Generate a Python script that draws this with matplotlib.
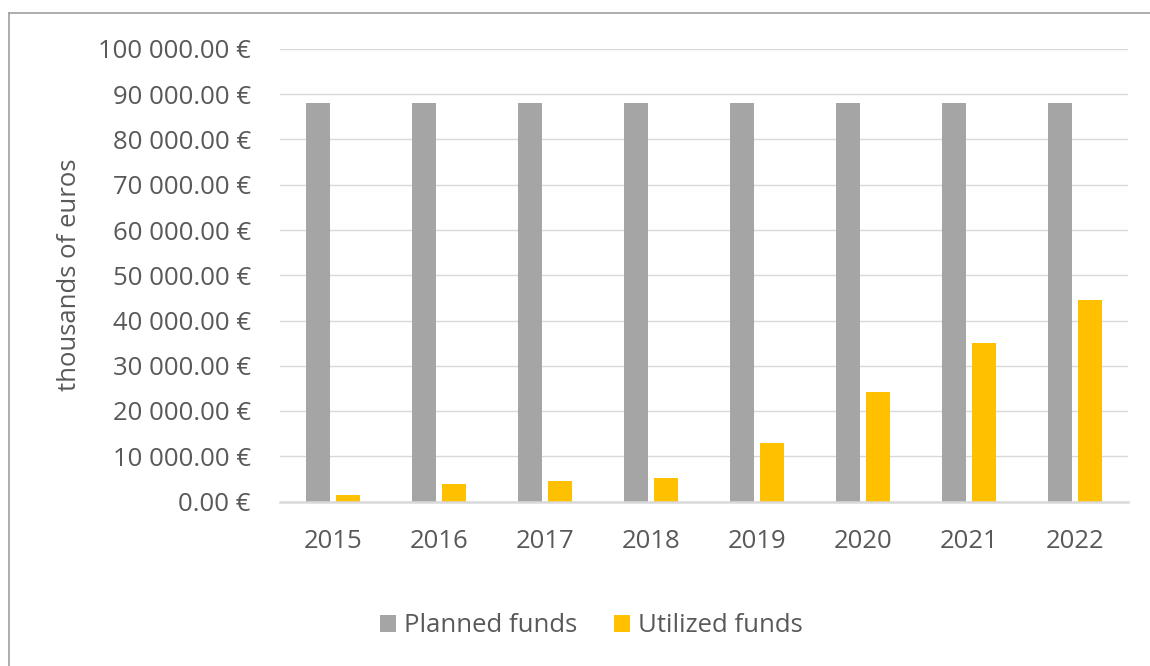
import matplotlib
matplotlib.use("Agg")
import matplotlib.pyplot as plt
from matplotlib.patches import Patch
from matplotlib.lines import Line2D
import numpy as np

years = ["2015", "2016", "2017", "2018", "2019", "2020", "2021", "2022"]
planned = [88000, 88000, 88000, 88000, 88000, 88000, 88000, 88000]
utilized = [1400, 3900, 4500, 5200, 12900, 24300, 35100, 44500]
yticks = [0, 10000, 20000, 30000, 40000, 50000, 60000, 70000, 80000, 90000, 100000]

plt.rcParams['font.family'] = ['Open Sans', 'DejaVu Sans']
TXT = '#595959'
FS = 18.5

fig = plt.figure(figsize=(11.5, 6.66), dpi=100)
ax = fig.add_axes([280/1150, 1-501.5/666, (1128-280)/1150, (501.5-49)/666])

x = np.arange(len(years))
w = 0.225
off = 0.145
ax.bar(x - off, planned, width=w, color='#A5A5A5', zorder=3)
ax.bar(x + off, utilized, width=w, color='#FFC000', zorder=3)

ax.set_xlim(-0.5, len(years) - 0.5)
ax.set_ylim(0, 100000)
ax.set_yticks(yticks)
ax.set_yticklabels([f"{v:,.2f} €".replace(",", " ") for v in yticks])
ax.set_xticks(x)
ax.set_xticklabels(years)

ax.grid(axis='y', color='#d9d9d9', linewidth=1.0, zorder=0)
for s in ['top', 'right', 'left']:
    ax.spines[s].set_visible(False)
ax.spines['bottom'].set_color('#d9d9d9')
ax.spines['bottom'].set_linewidth(1.8)
ax.spines['bottom'].set_zorder(4)

ax.tick_params(axis='y', length=0, pad=21, labelsize=FS, labelcolor=TXT)
ax.tick_params(axis='x', length=0, pad=20, labelsize=FS, labelcolor=TXT)

fig.text(70/1150, 1-275/666, "thousands of euros", rotation=90, ha='center', va='center',
         fontsize=FS, color=TXT)

handles = [Patch(facecolor='#A5A5A5', edgecolor='none', label='Planned funds'),
           Patch(facecolor='#FFC000', edgecolor='none', label='Utilized funds')]
fig.legend(handles=handles, loc='center', bbox_to_anchor=(591.5/1150, 1-626/666),
           ncol=2, frameon=False, fontsize=FS, labelcolor=TXT,
           handlelength=0.62, handleheight=0.62, handletextpad=0.31,
           columnspacing=1.44, borderpad=0)

# outer frame (left and top only visible)
fig.add_artist(Line2D([9/1150, 9/1150], [0, 1-13/666], transform=fig.transFigure,
                      color='#a0a0a0', linewidth=1.2))
fig.add_artist(Line2D([9/1150, 1], [1-13/666, 1-13/666], transform=fig.transFigure,
                      color='#a0a0a0', linewidth=1.2))

fig.savefig("out.png", dpi=100)
